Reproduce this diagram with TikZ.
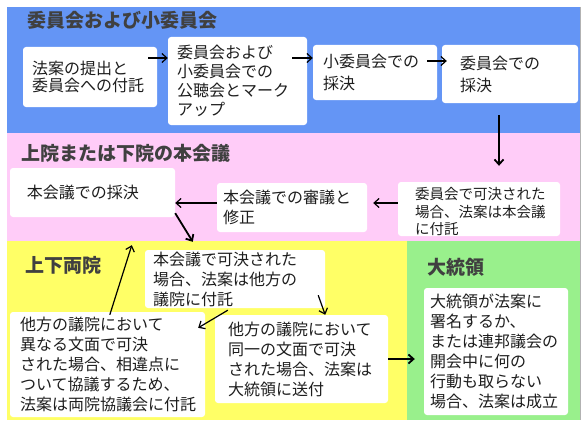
\documentclass[tikz,border=0pt]{standalone}
\usepackage{fontspec}
\setmainfont{Noto Sans CJK JP}
\usetikzlibrary{arrows.meta,calc}

\definecolor{cmtblue}{HTML}{6495F5}
\definecolor{floorpink}{HTML}{FFCCF8}
\definecolor{bothyellow}{HTML}{FFFF66}
\definecolor{presgreen}{HTML}{99F08C}
\definecolor{inktext}{HTML}{1E1E1E}

\tikzset{
    billbox/.style={fill=white, rounded corners=3pt, align=left, inner ysep=0pt,
        text=inktext, font=\fontsize{16}{20}\selectfont},
    bandtitle/.style={anchor=west, text=inktext!85, font=\fontsize{19}{22}\selectfont\bfseries},
    flow/.style={-{Straight Barb[length=5pt,width=9pt]}, line width=1.2pt},
    bigflow/.style={flow, line width=1.8pt},
}

% white box: [options]{name}{centre}{width}{height}{x padding}{text}
\newcommand{\billnode}[7][]{%
    \pgfmathsetmacro{\billtw}{#4-2*#6}%
    \node[billbox, minimum width=#4pt, minimum height=#5pt, inner xsep=#6pt,
        text width=\billtw pt, #1] (#2) at #3 {#7};%
}

\begin{document}
\begin{tikzpicture}[x=1pt, y=-1pt]

    \useasboundingbox (0,0) rectangle (586,428);

    % --- Background bands ---
    \fill[cmtblue] (7,7) rectangle (580,133);
    \fill[floorpink] (7,133) rectangle (580,241);
    \fill[bothyellow] (7,241) rectangle (407,420);
    \fill[presgreen] (407,241) rectangle (580,420);
    \draw[gray!60] (580.5,7) -- (580.5,420);

    % Band titles
    \node[bandtitle] (cmttitle) at (24,20) {委員会および小委員会};
    \node[bandtitle] (floortitle) at (18,153) {上院または下院の本会議};
    \node[bandtitle] (bothtitle) at (22,265) {上下両院};
    \node[bandtitle] (prestitle) at (424,267) {大統領};

    % --- Committee ---
    \billnode[font=\fontsize{16}{17}\selectfont]{box1}{(90,77)}{134}{60}{9}{法案の提出と\\委員会への付託}
    \billnode[font=\fontsize{16}{19}\selectfont]{box2}{(237.5,81)}{139}{88}{9}{委員会および\\小委員会での\\公聴会とマーク\\アップ}
    \billnode[font=\fontsize{16}{22}\selectfont]{box3}{(375,72.5)}{124}{55}{10}{小委員会での\\採決}
    \billnode[font=\fontsize{16}{22}\selectfont]{box4}{(510,74)}{136}{58}{18}{委員会での\\採決}

    % --- Floor ---
    \billnode[font=\fontsize{14.5}{17.5}\selectfont]{box5}{(479,209)}{162}{54}{17}{\hspace{4pt}委員会で可決された\\場合、法案は本会議\\に付託}
    \billnode{box6}{(292,207.5)}{150}{49}{6}{本会議での審議と\\修正}
    \billnode{box7}{(92.5,192.5)}{165}{49}{17}{本会議での採決}

    % --- Both houses ---
    \billnode{box8}{(235,279)}{180}{58}{8}{本会議で可決された\\場合、法案は他方の\\議院に付託}
    \billnode{box9}{(107.5,364.5)}{195}{105}{10}{他方の議院において\\異なる文面で可決\\された場合、相違点に\\ついて協議するため、\\法案は両院協議会に付託}
    \billnode{box10}{(301.5,359)}{173}{88}{13}{他方の議院において\\同一の文面で可決\\された場合、法案は\\大統領に送付}

    % --- President ---
    \billnode{box11}{(496,351.5)}{144}{127}{6}{大統領が法案に\\署名するか、\\または連邦議会の\\開会中に何の\\行動も取らない\\場合、法案は成立}

    % Connectors
    \draw[flow, shorten <=-9pt] ([yshift=19pt]box1.east) -- ([yshift=19pt]box1.east -| box2.west);
    \draw[flow, shorten <=-15pt] ([yshift=23pt]box2.east) -- ([yshift=23pt]box2.east -| box3.west);
    \draw[flow, shorten <=-10pt, shorten >=-5pt] ([yshift=11.5pt]box3.east) -- ([yshift=11.5pt]box3.east -| box4.west);
    \draw[bigflow, shorten <=12pt, shorten >=16pt] ([xshift=-11pt]box4.south) -- ([xshift=-11pt]box4.south |- box5.north);
    \draw[flow, shorten >=6pt] ([yshift=6pt]box5.west) -- ([yshift=6pt]box5.west -| box6.east);
    \draw[flow] ([yshift=4.5pt]box6.west) -- ([yshift=4.5pt]box6.west -| box7.east);
    \draw[bigflow] ([yshift=4pt]box7.south east) -- ($(box8.north west)+(48,-8)$);
    \draw[flow] ($(box9.north west)+(100,3)$) -- ($(box7.south west)+(122,28)$);
    \draw[flow] ($(box8.south west)+(83,2)$) -- ($(box9.north east)+(-7,16)$);
    \draw[flow] ($(box8.south east)+(-7,-13)$) -- ($(box10.north east)+(-63,0)$);
    \draw[bigflow, shorten >=9pt] (box10.east) -- (box10.east -| box11.west);

\end{tikzpicture}
\end{document}
